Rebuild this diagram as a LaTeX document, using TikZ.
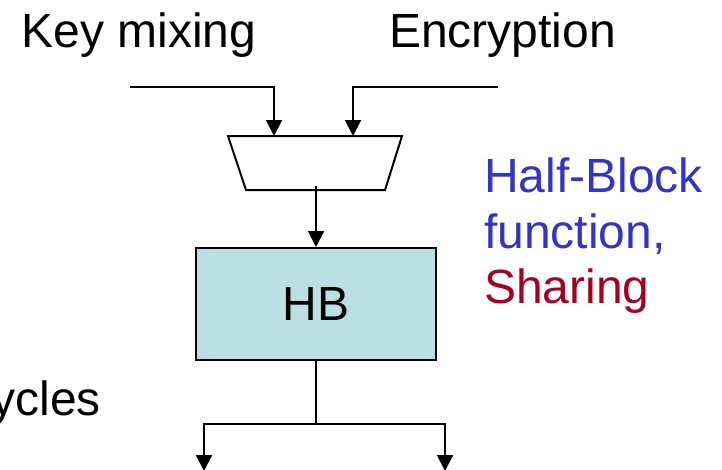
\documentclass[tikz,border=0pt]{standalone}
\usepackage{fontspec}
\setmainfont{Liberation Sans}
\usetikzlibrary{arrows.meta}
\definecolor{hbfill}{RGB}{187,224,227}
\definecolor{noteblue}{RGB}{51,51,204}
\definecolor{notered}{RGB}{165,0,33}
\begin{document}
\begin{tikzpicture}[x=1pt,y=-1pt,
  wire/.style={line width=2pt, draw=black},
  arrowwire/.style={wire, -{Triangle[length=16pt,width=16pt]}},
  label/.style={inner sep=0pt, font=\fontsize{48}{56}\selectfont},
  block/.style={draw=black, line width=2pt, fill=hbfill, inner sep=0pt,
    minimum width=240pt, minimum height=112pt, font=\fontsize{48}{56}\selectfont}]
  \useasboundingbox (0,0) rectangle (722,469);

  % input labels
  \node[label, anchor=base west] (keymix) at (21.5,47) {Key mixing};
  \node[label, anchor=base west] (encr) at (389,47) {Encryption};

  % multiplexer
  \draw[wire] (228,136) -- (402,136) -- (385,190) -- (246,190) -- cycle;
  \coordinate (muxinl) at (274,136);
  \coordinate (muxinr) at (353,136);
  \coordinate (muxout) at (316,186);

  % input wires
  \coordinate (srcl) at (130,87);
  \coordinate (srcr) at (498,87);
  \draw[arrowwire] (srcl) -| (muxinl);
  \draw[arrowwire] (srcr) -| (muxinr);

  % half-block unit
  \node[block] (hb) at (316,304) {HB};
  \draw[arrowwire] (muxout) -- (hb.north);

  % output fan-out
  \coordinate (split) at (316,424);
  \coordinate (outl) at (204,471);
  \coordinate (outr) at (445,471);
  \draw[wire] (hb.south) -- (split);
  \draw[arrowwire] (split) -| (outl);
  \draw[arrowwire] (split) -| (outr);

  % annotations
  \node[label, anchor=base west, text=noteblue] (note1) at (484,192) {Half-Block};
  \node[label, anchor=base west, text=noteblue] (note2) at (484,248) {function,};
  \node[label, anchor=base west, text=notered] (note3) at (484,303) {Sharing};
  \node[label, anchor=base east] (cyc) at (101,415) {cycles};
\end{tikzpicture}
\end{document}
